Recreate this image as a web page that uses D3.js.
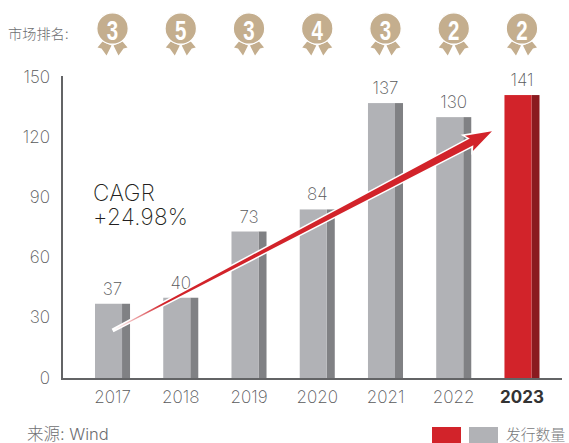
<!DOCTYPE html>
<html><head><meta charset="utf-8">
<script src="https://cdnjs.cloudflare.com/ajax/libs/d3/7.8.5/d3.min.js"></script>
<style>html,body{margin:0;padding:0;background:#fff}svg{display:block}
text{font-family:Inter,"Noto Sans CJK SC",sans-serif;font-weight:200}
</style></head><body><div id="c"></div>
<script>
const years=[2017,2018,2019,2020,2021,2022,2023];
const issued=[37,40,73,84,137,130,141];
const ranks=[3,5,3,4,3,2,2];
const yTicks=[0,30,60,90,120,150];
const cagrLines=["CAGR","+24.98%"];
const trendYears=[2017.02,2022.56];
const trendValues=[24,123];
const W=569,H=443;
const svg=d3.select("#c").append("svg").attr("width",W).attr("height",H);
const x=d3.scaleBand().domain(years).range([95,539.5]).paddingInner(0.4866).paddingOuter(0);
const y=d3.scaleLinear().domain([0,150]).range([378,77]);
const yearX=d3.scaleLinear().domain([2017,2023]).range([x(2017)+x.bandwidth()/2,x(2023)+x.bandwidth()/2]);
const depth=8;
const defs=svg.append("defs");
const bars=svg.append("g").selectAll("g").data(years).join("g");
const isLast=d=>d===2023;
bars.append("rect").attr("x",d=>x(d)+x.bandwidth()-depth).attr("width",depth)
 .attr("y",(d,i)=>y(issued[i])).attr("height",(d,i)=>y(0)-y(issued[i]))
 .attr("fill",d=>isLast(d)?"#8a1a1f":"#808184");
bars.append("rect").attr("x",d=>x(d)).attr("width",x.bandwidth()-depth)
 .attr("y",(d,i)=>y(issued[i])).attr("height",(d,i)=>y(0)-y(issued[i]))
 .attr("fill",d=>isLast(d)?"#d2232a":"#b1b2b6");
bars.append("text").attr("x",d=>x(d)+x.bandwidth()/2).attr("y",(d,i)=>y(issued[i])-9)
 .attr("text-anchor","middle").attr("font-size",17).attr("fill","#58595b").text((d,i)=>issued[i]);
const axL=d3.axisLeft(y).tickValues(yTicks).tickSize(0).tickPadding(12);
const gy=svg.append("g").attr("transform","translate(62,0)").call(axL);
gy.select(".domain").attr("d","M0,76V379").attr("stroke","#636466").attr("stroke-width",2);
gy.selectAll("text").attr("font-size",17).attr("fill","#58595b").attr("dy","5px").style("font-family","Inter").style("font-weight",200);
const axB=d3.axisBottom(x).tickSize(0).tickPadding(12).tickFormat(d3.format("d"));
const gx=svg.append("g").attr("transform","translate(0,379)").call(axB);
gx.select(".domain").attr("d","M61,0H562").attr("stroke","#636466").attr("stroke-width",2);
gx.selectAll("text").attr("font-size",17).attr("fill","#58595b").attr("dy","0.72em").style("font-family","Inter").style("font-weight",200);
gx.selectAll("text").filter(d=>isLast(d)).attr("fill","#333").style("font-weight",700);
const x0=yearX(trendYears[0]),y0=y(trendValues[0]),x1=yearX(trendYears[1]),y1=y(trendValues[1]);
const ang=Math.atan2(y1-y0,x1-x0),L=Math.hypot(x1-x0,y1-y0);
const arrow=d3.path();
const headL=26,headW=8.6,waist=23,shaft=3.8;
arrow.moveTo(0,-0.5);arrow.lineTo(L-waist,-shaft);arrow.lineTo(L-headL,-headW);arrow.lineTo(L,0);
arrow.lineTo(L-headL,headW);arrow.lineTo(L-waist,shaft);arrow.lineTo(0,0.5);arrow.closePath();
const ag=svg.append("g").attr("transform",`translate(${x0},${y0}) rotate(${ang*180/Math.PI})`);
ag.append("path").attr("d",arrow.toString()).attr("fill","#fff").attr("stroke","#fff").attr("stroke-width",3).attr("stroke-linejoin","miter");
const fadeH=defs.append("linearGradient").attr("id","fadeL").attr("gradientUnits","userSpaceOnUse")
 .attr("x1",0).attr("y1",0).attr("x2",L).attr("y2",0);
fadeH.append("stop").attr("offset",0).attr("stop-color","#fff");
fadeH.append("stop").attr("offset",0.13).attr("stop-color","#d2232a");
fadeH.append("stop").attr("offset",1).attr("stop-color","#d2232a");
ag.append("path").attr("d",arrow.toString()).attr("fill","url(#fadeL)");
const cagr=svg.append("text").attr("font-size",22.5).attr("letter-spacing",0.3).attr("fill","#231f20");
cagr.selectAll("tspan").data(cagrLines).join("tspan").attr("x",93).attr("y",(d,i)=>201+i*24).text(d=>d);
svg.append("text").attr("x",8).attr("y",38.5).attr("font-size",14.2).attr("fill","#6d6e71").style("font-weight",300).text("市场排名:");
const medalColor="#c4ae8e";
const m=svg.append("g").selectAll("g").data(years).join("g")
 .attr("transform",d=>`translate(${x(d)+x.bandwidth()/2},28.5)`);
m.append("path").attr("d","M-10,13L-15,19L-11,20L-6,27L-1,17Z").attr("fill",medalColor);
m.append("path").attr("d","M1,17L6,27L11,20L15,19L10,13Z").attr("fill",medalColor);
m.append("circle").attr("r",15.7).attr("fill",medalColor).attr("stroke","#fff").attr("stroke-width",1.2);
m.append("text").attr("text-anchor","middle").attr("transform","translate(0,11) scale(0.72,1)").attr("font-size",28.5)
 .attr("fill","#fff").style("font-family","'Liberation Sans'").style("font-weight",700).text((d,i)=>ranks[i]);
svg.append("text").attr("x",27).attr("y",439.5).attr("font-size",16.5).attr("fill","#6d6e71").style("font-weight",300).text("来源: Wind");
svg.append("rect").attr("x",432).attr("y",427).attr("width",29).attr("height",16).attr("fill","#d2232a");
svg.append("rect").attr("x",469).attr("y",427).attr("width",29).attr("height",16).attr("fill","#b1b2b6");
svg.append("text").attr("x",506).attr("y",439.5).attr("font-size",14.8).attr("fill","#77787b").style("font-weight",300).text("发行数量");
</script></body></html>
